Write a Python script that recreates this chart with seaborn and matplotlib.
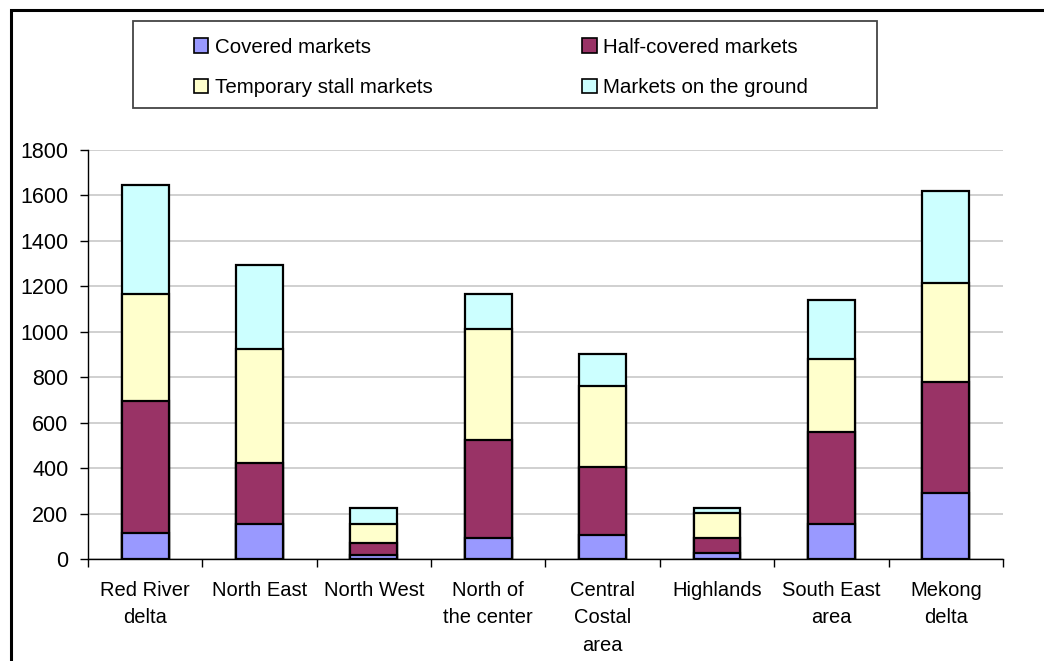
import numpy as np
import matplotlib
matplotlib.use("Agg")
import matplotlib.pyplot as plt
from matplotlib.patches import Patch, Rectangle
import seaborn as sns

# Data
regions = ["Red River\ndelta", "North East", "North West", "North of\nthe center",
           "Central\nCostal\narea", "Highlands", "South East\narea", "Mekong\ndelta"]
covered = [113, 154, 17, 94, 104, 26, 154, 292]
half_covered = [584, 267, 55, 430, 299, 68, 403, 488]
temporary = [468, 503, 82, 487, 360, 107, 325, 436]
on_ground = [481, 370, 69, 154, 141, 23, 258, 404]

series_names = ["Covered markets", "Half-covered markets",
                "Temporary stall markets", "Markets on the ground"]
series_colors = ["#9999FF", "#993366", "#FFFFCC", "#CCFFFF"]
y_ticks = [0, 200, 400, 600, 800, 1000, 1200, 1400, 1600, 1800]

sns.set_theme(style="white")
plt.rcParams["font.family"] = ["Liberation Sans", "DejaVu Sans"]
plt.rcParams["text.color"] = "black"

fig = plt.figure(figsize=(10.44, 6.61), dpi=100)
ax = fig.add_axes([0.0843, 0.1543, 0.8764, 0.6188])

# stacked bars: draw cumulative totals from the top series down
stack = np.cumsum(np.array([covered, half_covered, temporary, on_ground]), axis=0)
for level in range(3, -1, -1):
    sns.barplot(x=regions, y=stack[level], color=series_colors[level],
                width=0.41, edgecolor="black", linewidth=1.6,
                saturation=1, ax=ax, zorder=3)

ax.set_xlim(-0.5, len(regions) - 0.5)
ax.set_ylim(0, 1800)
ax.set_yticks(y_ticks)
ax.yaxis.grid(True, color="#c8c8c8", linewidth=1.2, zorder=0)
ax.set_axisbelow(True)
ax.set_xlabel("")
ax.set_ylabel("")

for side in ["top", "right"]:
    ax.spines[side].set_visible(False)
for side in ["left", "bottom"]:
    ax.spines[side].set_color("black")
    ax.spines[side].set_linewidth(1.0)

ax.tick_params(axis="y", which="major", direction="out", length=6, width=1,
               color="black", labelcolor="black", labelsize=15.5, pad=8, left=True)
ax.tick_params(axis="x", which="major", length=0, labelsize=14.5, pad=16,
               labelcolor="black")
ax.set_xticks(np.arange(-0.5, len(regions), 1.0), minor=True)
ax.tick_params(axis="x", which="minor", direction="out", length=6, width=1,
               color="black", bottom=True)
for lab in ax.get_xticklabels():
    lab.set_linespacing(1.55)

# legend is filled column by column, so order the entries to read row-wise
order = [0, 2, 1, 3]
handles = [Patch(facecolor=series_colors[i], edgecolor="black", linewidth=1.2) for i in order]
labels = [series_names[i] for i in order]
leg = fig.legend(handles, labels, ncol=2, loc="center left",
                 bbox_to_anchor=(0.178, 0.898),
                 fontsize=14.8, frameon=False, borderaxespad=0,
                 handlelength=0.7, handleheight=0.7, handletextpad=0.3,
                 labelspacing=1.05, columnspacing=7.3)

# legend box and outer chart-area border
fig.patches.append(Rectangle((0.1274, 0.8366), 0.7126, 0.1316, transform=fig.transFigure,
                             fill=False, edgecolor="#444444", linewidth=1.3))
fig.patches.append(Rectangle((0.0105, -0.1), 1.2, 1.0845, transform=fig.transFigure,
                             fill=False, edgecolor="black", linewidth=2.2))

fig.savefig("out.png", dpi=100)
